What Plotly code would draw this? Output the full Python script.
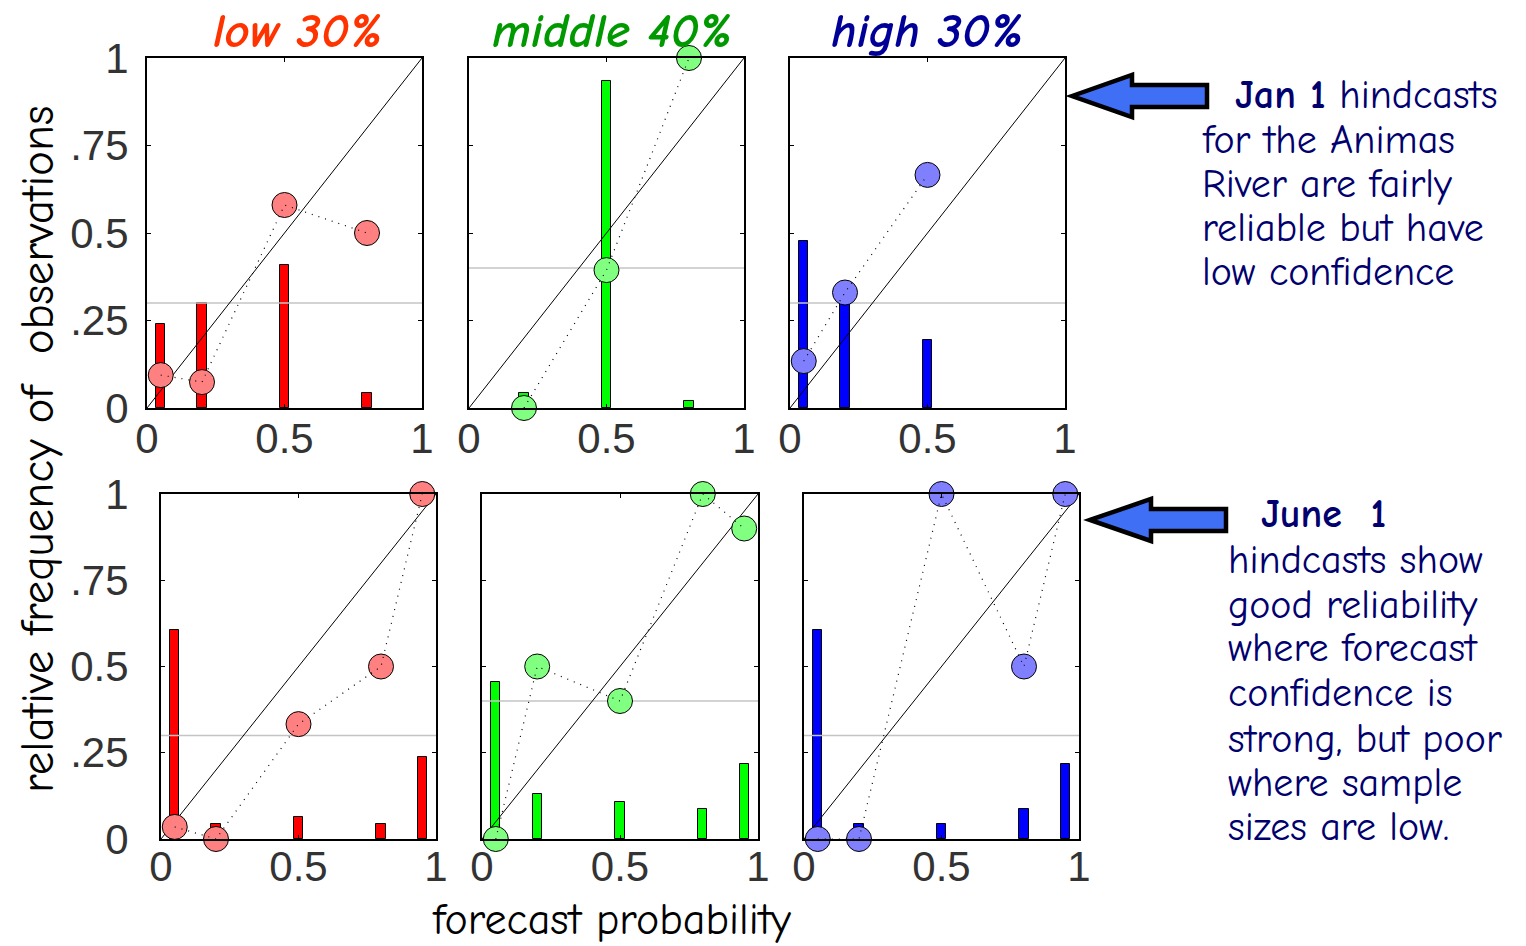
import plotly.graph_objects as go

W, H = 1526, 946

# ---------------- data ----------------
col_titles = ["low 30%", "middle 40%", "high 30%"]
title_colors = ["#ff3300", "#009900", "#000099"]
bar_colors = ["#ff0000", "#00ff00", "#0000ff"]
dot_colors = ["#ff8080", "#80ff80", "#8080ff"]
climatology = [0.3, 0.4, 0.3]

# Jan 1 hindcasts (top row)
jan_low_prob = [0.05, 0.2, 0.5, 0.8]
jan_low_share = [0.24, 0.30, 0.41, 0.043]
jan_low_obs = [0.094, 0.074, 0.58, 0.50]

jan_mid_prob = [0.2, 0.5, 0.8]
jan_mid_share = [0.043, 0.934, 0.02]
jan_mid_obs = [0.0, 0.394, 1.0]

jan_high_prob = [0.05, 0.2, 0.5]
jan_high_share = [0.477, 0.31, 0.194]
jan_high_obs = [0.134, 0.33, 0.666]

# June 1 hindcasts (bottom row)
jun_low_prob = [0.05, 0.2, 0.5, 0.8, 0.95]
jun_low_share = [0.606, 0.043, 0.064, 0.043, 0.238]
jun_low_obs = [0.035, 0.0, 0.333, 0.5, 1.0]

jun_mid_prob = [0.05, 0.2, 0.5, 0.8, 0.95]
jun_mid_share = [0.455, 0.13, 0.107, 0.087, 0.217]
jun_mid_obs = [0.0, 0.5, 0.4, 1.0, 0.9]

jun_high_prob = [0.05, 0.2, 0.5, 0.8, 0.95]
jun_high_share = [0.606, 0.043, 0.043, 0.087, 0.217]
jun_high_obs = [0.0, 0.0, 1.0, 0.5, 1.0]

y_tickvals = [0, 0.25, 0.5, 0.75, 1]
y_ticktext = ["0", ".25", "0.5", ".75", "1"]
x_tickvals = [0, 0.5, 1]
x_ticktext = ["0", "0.5", "1"]

panels = [
    (jan_low_prob, jan_low_share, jan_low_obs, 0),
    (jan_mid_prob, jan_mid_share, jan_mid_obs, 1),
    (jan_high_prob, jan_high_share, jan_high_obs, 2),
    (jun_low_prob, jun_low_share, jun_low_obs, 0),
    (jun_mid_prob, jun_mid_share, jun_mid_obs, 1),
    (jun_high_prob, jun_high_share, jun_high_obs, 2),
]

# ---------------- layout geometry (pixels) ----------------
boxes = [
    (147, 422, 58, 408),
    (469, 744, 58, 408),
    (790, 1065, 58, 408),
    (161, 436, 494, 839),
    (482, 758, 494, 839),
    (804, 1079, 494, 839),
]

def px(x):
    return x / W

def py(y):
    return 1 - y / H

COMIC = "Comic Sans MS, Comic Neue, Noto Sans, DejaVu Sans, sans-serif"
TICKFONT = dict(family="Liberation Sans, Arial, sans-serif", size=42, color="#333333")

fig = go.Figure()
layout_axes = {}

for i, (prob, share, obs, c) in enumerate(panels):
    n = i + 1
    xa = "x" if n == 1 else f"x{n}"
    ya = "y" if n == 1 else f"y{n}"
    fig.add_trace(go.Bar(
        x=prob, y=share, width=0.033, xaxis=xa, yaxis=ya,
        marker=dict(color=bar_colors[c], line=dict(color="black", width=1)),
        showlegend=False, hoverinfo="skip"))
    fig.add_trace(go.Scatter(
        x=[0, 1], y=[climatology[c]] * 2, mode="lines", xaxis=xa, yaxis=ya,
        line=dict(color="#c4c4c4", width=1.5), showlegend=False, hoverinfo="skip"))
    fig.add_trace(go.Scatter(
        x=[0, 1], y=[0, 1], mode="lines", xaxis=xa, yaxis=ya,
        line=dict(color="black", width=1), showlegend=False, hoverinfo="skip"))
    fig.add_trace(go.Scatter(
        x=prob, y=obs, mode="markers", xaxis=xa, yaxis=ya, cliponaxis=False,
        marker=dict(size=25, color=dot_colors[c], line=dict(color="black", width=1)),
        showlegend=False))
    fig.add_trace(go.Scatter(
        x=prob, y=obs, mode="lines", xaxis=xa, yaxis=ya, cliponaxis=False,
        line=dict(color="black", width=1.2, dash="1px,6px"),
        showlegend=False, hoverinfo="skip"))

    x0, x1, y0, y1 = boxes[i]
    first_col = (i % 3 == 0)
    top_row = i < 3
    layout_axes["xaxis" if n == 1 else f"xaxis{n}"] = dict(
        domain=[px(x0), px(x1)], anchor=ya, range=[0, 1],
        tickvals=x_tickvals, ticktext=x_ticktext, tickfont=TICKFONT,
        ticks="inside", ticklen=4, tickcolor="black",
        showline=True, linecolor="black", linewidth=2, mirror="ticks",
        showgrid=False, zeroline=False, fixedrange=True,
        ticklabelstandoff=-7 if top_row else -10)
    layout_axes["yaxis" if n == 1 else f"yaxis{n}"] = dict(
        domain=[py(y1), py(y0)], anchor=xa, range=[0, 1],
        tickvals=y_tickvals, ticktext=y_ticktext, tickfont=TICKFONT,
        showticklabels=first_col,
        ticks="inside", ticklen=4, tickcolor="black",
        showline=True, linecolor="black", linewidth=2, mirror="ticks",
        showgrid=False, zeroline=False, fixedrange=True,
        ticklabelstandoff=8 if top_row else 22)

annotations = []
title_centers = [298, 612, 927]
for t, col, cx in zip(col_titles, title_colors, title_centers):
    annotations.append(dict(
        text=f"<b><i>{t}</i></b>", x=px(cx), y=py(31), xref="paper", yref="paper",
        showarrow=False, xanchor="center", yanchor="middle",
        font=dict(family=COMIC, size=49, color=col)))

annotations.append(dict(
    text="relative frequency of\u00a0 observations", x=px(38), y=py(450),
    xref="paper", yref="paper", showarrow=False, textangle=-90,
    xanchor="center", yanchor="middle",
    font=dict(family=COMIC, size=47, color="black")))
annotations.append(dict(
    text="forecast probability", x=px(611), y=py(919),
    xref="paper", yref="paper", showarrow=False,
    xanchor="center", yanchor="middle",
    font=dict(family=COMIC, size=44, color="black")))

NAVY = "#00006e"
note_lines = [
    ("<b>Jan 1</b> hindcasts", 1233, 95),
    ("for the Animas", 1200, 140),
    ("River are fairly", 1200, 184),
    ("reliable but have", 1200, 228),
    ("low confidence", 1200, 272),
    ("<b>June\u00a0 1</b>", 1259, 514),
    ("hindcasts show", 1226, 560),
    ("good reliability", 1226, 605),
    ("where forecast", 1226, 648),
    ("confidence is", 1226, 693),
    ("strong, but poor", 1226, 739),
    ("where sample", 1226, 783),
    ("sizes are low.", 1226, 827),
]
for txt, lx, ly in note_lines:
    annotations.append(dict(
        text=txt, x=px(lx), y=py(ly), xref="paper", yref="paper",
        showarrow=False, xanchor="left", yanchor="middle",
        font=dict(family=COMIC, size=40, color=NAVY)))

def arrow_path(tip_x, tip_y, head_x, head_half, body_x, body_half):
    pts = [(tip_x, tip_y), (head_x, tip_y - head_half), (head_x, tip_y - body_half),
           (body_x, tip_y - body_half), (body_x, tip_y + body_half),
           (head_x, tip_y + body_half), (head_x, tip_y + head_half)]
    return "M " + " L ".join(f"{px(a):.5f},{py(b):.5f}" for a, b in pts) + " Z"

shapes = [
    dict(type="path", xref="paper", yref="paper",
         path=arrow_path(1072, 96, 1132, 21, 1207, 11),
         fillcolor="#3f6ff5", line=dict(color="black", width=4.5)),
    dict(type="path", xref="paper", yref="paper",
         path=arrow_path(1090, 520, 1151, 21, 1226, 11),
         fillcolor="#3f6ff5", line=dict(color="black", width=4.5)),
]

fig.update_layout(
    width=W, height=H, margin=dict(l=0, r=0, t=0, b=0, pad=0, autoexpand=False),
    paper_bgcolor="white", plot_bgcolor="white",
    showlegend=False, bargap=0, barmode="overlay",
    annotations=annotations, shapes=shapes,
    **layout_axes)

fig.write_html(
    "out.html",
    post_script="document.body.style.margin='0';document.body.style.overflow='hidden';")
